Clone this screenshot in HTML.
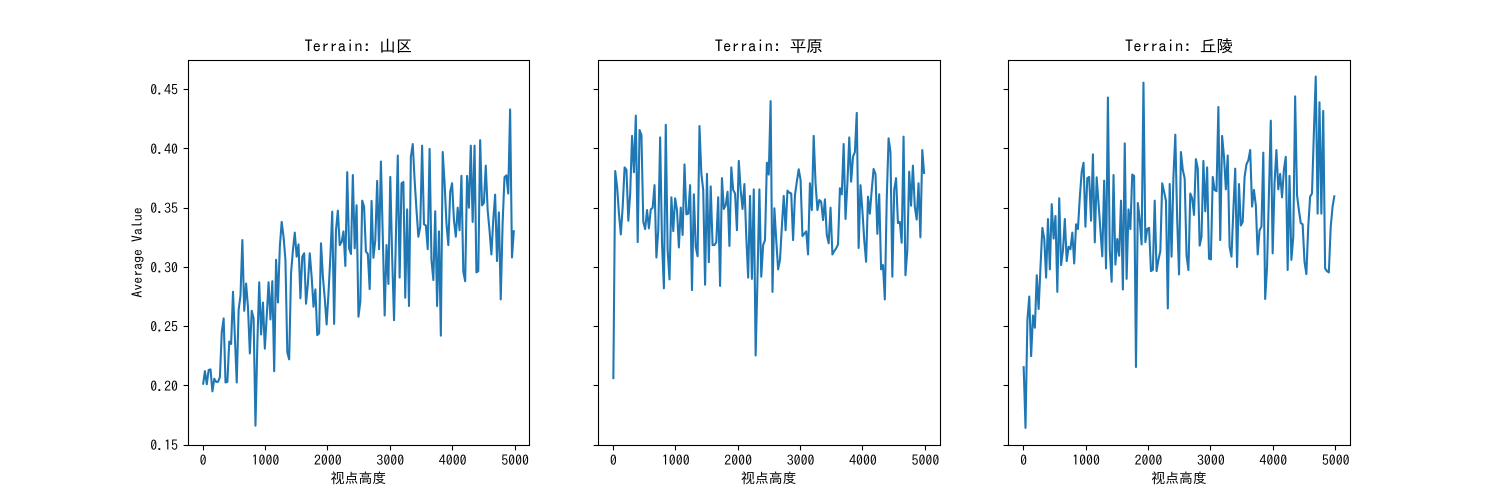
<!DOCTYPE html>
<html>
<head>
<meta charset="utf-8">
<style>
html,body{margin:0;padding:0;background:#fff;width:1500px;height:500px;overflow:hidden}
svg{display:block}
text{font-family:"IPAGothic","WenQuanYi Zen Hei","Noto Sans CJK SC",sans-serif;fill:#000}
</style>
</head>
<body>
<svg id="chart" xmlns="http://www.w3.org/2000/svg" width="1500" height="500" viewBox="0 0 1500 500"></svg>
<script>
const heights = [0,30,60,90,120,150,180,210,240,270,300,330,360,390,420,450,480,510,540,570,600,630,660,690,720,750,780,810,840,870,900,930,960,990,1020,1050,1080,1110,1140,1170,1200,1230,1260,1290,1320,1350,1380,1410,1440,1470,1500,1530,1560,1590,1620,1650,1680,1710,1740,1770,1800,1830,1860,1890,1920,1950,1980,2010,2040,2070,2100,2130,2160,2190,2220,2250,2280,2310,2340,2370,2400,2430,2460,2490,2520,2550,2580,2610,2640,2670,2700,2730,2760,2790,2820,2850,2880,2910,2940,2970,3000,3030,3060,3090,3120,3150,3180,3210,3240,3270,3300,3330,3360,3390,3420,3450,3480,3510,3540,3570,3600,3630,3660,3690,3720,3750,3780,3810,3840,3870,3900,3930,3960,3990,4020,4050,4080,4110,4140,4170,4200,4230,4260,4290,4320,4350,4380,4410,4440,4470,4500,4530,4560,4590,4620,4650,4680,4710,4740,4770,4800,4830,4860,4890,4920,4950,4980];
const mountainValues = [.2006,.212,.201,.213,.2135,.195,.2056,.203,.203,.207,.245,.2566,.2025,.203,.237,.235,.279,.241,.2025,.2636,.276,.3227,.263,.286,.266,.227,.263,.2566,.166,.235,.287,.243,.27,.231,.258,.287,.2557,.288,.212,.306,.27,.317,.338,.3255,.306,.228,.222,.2946,.314,.329,.3087,.319,.2735,.3087,.3115,.269,.286,.3115,.2918,.2664,.281,.2425,.244,.32,.292,.2735,.2515,.2777,.3087,.3467,.252,.331,.3475,.3185,.321,.33,.3008,.38,.3157,.311,.3776,.3157,.352,.258,.2707,.356,.351,.313,.311,.2813,.3557,.3078,.3227,.3726,.315,.389,.3255,.259,.3185,.2856,.376,.3087,.255,.3255,.394,.291,.3706,.3717,.274,.3486,.267,.393,.4038,.3734,.348,.3255,.334,.4024,.336,.335,.315,.3996,.306,.289,.347,.267,.33,.242,.397,.3706,.337,.3185,.3635,.3706,.3396,.3255,.35,.331,.377,.296,.288,.3768,.35,.4024,.338,.4024,.2954,.2965,.407,.352,.354,.3855,.348,.331,.3106,.3396,.361,.305,.346,.2726,.337,.3757,.3773,.362,.433,.308,.331];
const plainValues = [.2053,.381,.3678,.345,.3275,.351,.384,.382,.339,.362,.4106,.38,.4277,.321,.4156,.4114,.338,.332,.348,.3326,.3486,.35,.369,.308,.331,.4094,.32,.282,.42,.314,.2895,.3588,.3303,.358,.348,.3165,.35,.327,.3866,.3444,.345,.369,.2805,.3613,.317,.309,.419,.379,.365,.285,.3785,.304,.368,.3185,.3185,.321,.3588,.284,.375,.349,.352,.3635,.3177,.384,.365,.362,.331,.3895,.365,.349,.37,.3255,.291,.36,.29,.3655,.2253,.2918,.3655,.2918,.3185,.3227,.388,.378,.44,.279,.3495,.3227,.298,.306,.334,.36,.331,.3644,.3627,.362,.3227,.3607,.372,.3824,.3734,.326,.328,.33,.3106,.3706,.348,.4106,.3706,.348,.3565,.355,.3396,.357,.327,.32,.35,.3106,.3134,.3157,.319,.3664,.3613,.4038,.3405,.3706,.4094,.372,.393,.397,.43,.316,.369,.348,.3227,.3044,.3593,.345,.365,.3827,.3785,.328,.3613,.298,.3016,.2726,.3565,.4086,.397,.2918,.365,.375,.337,.338,.3205,.41,.293,.314,.3804,.3517,.3855,.351,.34,.3706,.325,.3987,.3785];
const hillValues = [.2163,.1642,.255,.275,.2248,.259,.2487,.293,.2645,.3,.333,.324,.291,.3405,.298,.353,.324,.343,.279,.358,.3016,.314,.3405,.305,.317,.315,.329,.303,.336,.332,.359,.38,.388,.334,.375,.376,.339,.395,.3208,.3757,.3537,.331,.309,.3728,.2988,.443,.314,.2875,.3776,.302,.3236,.3095,.356,.281,.4043,.29,.3486,.332,.378,.3768,.2155,.354,.3396,.319,.4556,.321,.332,.333,.2965,.2974,.356,.2965,.306,.3134,.3706,.3635,.356,.265,.37,.3087,.376,.4117,.34,.2937,.397,.382,.3748,.31,.2974,.362,.358,.344,.391,.383,.318,.3255,.3895,.347,.384,.307,.3064,.376,.365,.364,.435,.3227,.4106,.393,.3655,.394,.317,.3087,.348,.383,.3,.37,.335,.338,.376,.3866,.39,.3987,.351,.365,.352,.3106,.331,.334,.3965,.273,.3,.362,.4235,.3115,.3706,.3987,.3655,.3785,.3588,.382,.393,.2974,.3768,.306,.3255,.444,.3607,.348,.337,.336,.3044,.294,.334,.3593,.362,.4128,.4607,.345,.439,.345,.4317,.2988,.2965,.2954,.334,.351,.3605];
const xTickValues = [0,1000,2000,3000,4000,5000];
const yTickValues = [0.15,0.20,0.25,0.30,0.35,0.40,0.45];
const yTickLabels = ["0.15","0.20","0.25","0.30","0.35","0.40","0.45"];
const panelTitles = ["Terrain: 山区","Terrain: 平原","Terrain: 丘陵"];
const panelKeys = ["mountain","plain","hill"];
const panelSeries = [mountainValues,plainValues,hillValues];
const xAxisTitle = "视点高度";
const yAxisTitle = "Average Value";

const NS = "http://www.w3.org/2000/svg";
const svg = document.getElementById("chart");
const frames = [[187.5,529.4,188.5,529.5],[597.8,939.7,598.5,940.5],[1008.1,1350,1008.5,1350.5]];
const xDomain = [-249,5229];
const yDomain = [0.1497,0.4747];
const plotTop = 60, plotBottom = 445;

function yScale(v){ return plotBottom-(v-yDomain[0])/(yDomain[1]-yDomain[0])*(plotBottom-plotTop); }
function xScale(p,v){ const f=frames[p]; return f[0]+(v-xDomain[0])/(xDomain[1]-xDomain[0])*(f[1]-f[0]); }
function make(tag,attrs,parent){
  const el=document.createElementNS(NS,tag);
  for(const k in attrs) el.setAttribute(k,attrs[k]);
  parent.appendChild(el);
  return el;
}

panelSeries.forEach(function(series,p){
  const key=panelKeys[p];
  const f=frames[p];
  const g=make("g",{},svg);
  
  

  const d=series.map(function(v,i){
    return (i?"L":"M")+xScale(p,heights[i]).toFixed(2)+" "+yScale(v).toFixed(2);
  }).join("");
  const line=make("path",{d:d,fill:"none",stroke:"#1f77b4","stroke-width":"2.08","stroke-linejoin":"round","stroke-linecap":"butt"},g);
  
  

  const frame=make("rect",{x:f[2],y:60.5,width:f[3]-f[2],height:385,fill:"none",stroke:"#000","stroke-width":"1.1"},g);
  
  

  xTickValues.forEach(function(t){
    const x=Math.floor(xScale(p,t))+0.5;
    const tick=make("line",{x1:x,x2:x,y1:446,y2:450.4,stroke:"#000","stroke-width":"1.1"},g);
    
    
    const lab=make("text",{x:xScale(p,t),y:465,"text-anchor":"middle","font-size":"13.9"},g);
    lab.textContent=String(t);
    
    
  });

  yTickValues.forEach(function(t,i){
    const y=Math.floor(yScale(t)+0.4)+0.5;
    const tick=make("line",{x1:f[2]-4.9,x2:f[2],y1:y,y2:y,stroke:"#000","stroke-width":"1.1"},g);
    
    
    if(p===0){
      const lab=make("text",{x:178,y:yScale(t)+5.4,"text-anchor":"end","font-size":"13.9"},g);
      lab.textContent=yTickLabels[i];
      
      
    }
  });

  const title=make("text",{x:(f[0]+f[1])/2,y:52,"text-anchor":"middle","font-size":"16.67"},g);
  title.textContent=panelTitles[p];
  
  

  const xt=make("text",{x:(f[0]+f[1])/2,y:483,"text-anchor":"middle","font-size":"13.9"},g);
  xt.textContent=xAxisTitle;
  
  
});

const yt=make("text",{x:0,y:0,"text-anchor":"middle","font-size":"13.9",transform:"translate(142 252.5) rotate(-90)"},svg);
yt.textContent=yAxisTitle;


</script>
</body>
</html>
